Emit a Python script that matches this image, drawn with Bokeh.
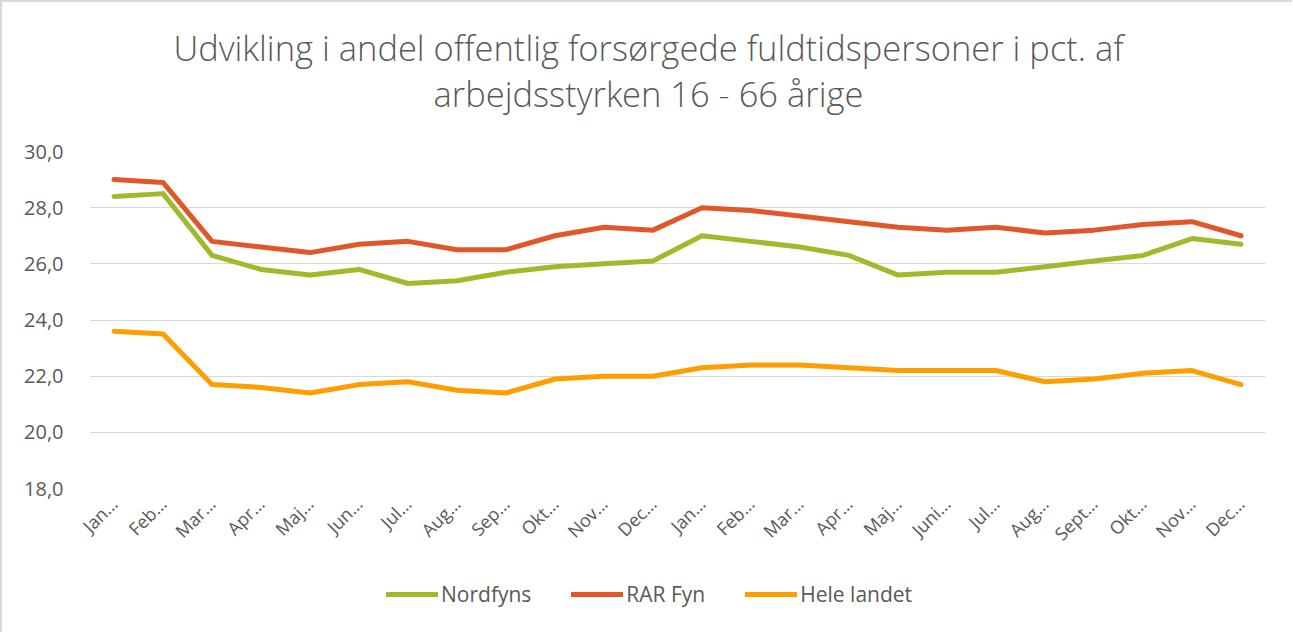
import math
from bokeh.plotting import figure
from bokeh.layouts import column
from bokeh.models import FixedTicker, Legend, LegendItem, Range1d
from bokeh.core.properties import value
from bokeh.embed import file_html
from bokeh.resources import INLINE

months = ["Jan…", "Feb…", "Mar…", "Apr…", "Maj…", "Jun…", "Jul…", "Aug…", "Sep…", "Okt…", "Nov…", "Dec…",
          "Jan…", "Feb…", "Mar…", "Apr…", "Maj…", "Juni…", "Jul…", "Aug…", "Sept…", "Okt…", "Nov…", "Dec…"]
nordfyns = [28.4, 28.5, 26.3, 25.8, 25.6, 25.8, 25.3, 25.4, 25.7, 25.9, 26.0, 26.1,
            27.0, 26.8, 26.6, 26.3, 25.6, 25.7, 25.7, 25.9, 26.1, 26.3, 26.9, 26.7]
rar_fyn = [29.0, 28.9, 26.8, 26.6, 26.4, 26.7, 26.8, 26.5, 26.5, 27.0, 27.3, 27.2,
           28.0, 27.9, 27.7, 27.5, 27.3, 27.2, 27.3, 27.1, 27.2, 27.4, 27.5, 27.0]
hele_landet = [23.6, 23.5, 21.7, 21.6, 21.4, 21.7, 21.8, 21.5, 21.4, 21.9, 22.0, 22.0,
               22.3, 22.4, 22.4, 22.3, 22.2, 22.2, 22.2, 21.8, 21.9, 22.1, 22.2, 21.7]
series_names = ["Nordfyns", "RAR Fyn", "Hele landet"]
colors = ["#A2B92B", "#E2572A", "#FF9E00"]
y_ticks = [18, 20, 22, 24, 26, 28, 30]
title_lines = ["Udvikling i andel offentlig forsørgede fuldtidspersoner i pct. af",
               "arbejdsstyrken 16 - 66 årige"]

xs = list(range(len(months)))
series = [nordfyns, rar_fyn, hele_landet]
gray = "#595959"
W = 1290
TH = 120  # title strip height
FL, FR = 89, 1265  # frame left/right (frames are aligned across the column)

# ---- title strip ----
tf = figure(width=W, height=TH, output_backend="svg", toolbar_location=None,
            x_range=Range1d(FL, FR), y_range=Range1d(0, TH), min_border=0,
            x_axis_location=None, y_axis_location=None)
tf.grid.visible = False
tf.outline_line_color = None
tf.text(x=[648, 648], y=[TH - 45, TH - 91], text=title_lines,
        text_align="center", text_baseline="middle",
        text_font=value("'Open Sans Light', 'Open Sans'"), text_font_size="34.5px", text_color=gray)

# ---- main chart ----
p = figure(width=W, height=434, output_backend="svg", toolbar_location=None,
           x_range=(-0.5, len(months) - 0.5), y_range=(18, 30),
           min_border_left=FL - 2, min_border_right=W - FR + 2, min_border_top=29, min_border_bottom=68)
p.outline_line_color = None
p.background_fill_color = "white"

for data, c in zip(series, colors):
    p.line(xs, data, line_color=c, line_width=5, line_join="round", line_cap="round")

p.xaxis.ticker = FixedTicker(ticks=xs)
p.xaxis.major_label_overrides = {i: m for i, m in enumerate(months)}
p.xaxis.major_label_orientation = math.pi / 4
p.yaxis.ticker = FixedTicker(ticks=y_ticks)
p.yaxis.major_label_overrides = {t: f"{t},0" for t in y_ticks}
for ax in (p.xaxis[0], p.yaxis[0]):
    ax.axis_line_color = None
    ax.major_tick_line_color = None
    ax.minor_tick_line_color = None
    ax.major_label_text_color = gray
    ax.major_label_text_font = "Open Sans"
p.xaxis.major_label_text_font_size = "18px"
p.yaxis.major_label_text_font_size = "20px"
p.yaxis.major_label_standoff = 20
p.xaxis.major_label_standoff = 6

p.xgrid.grid_line_color = None
p.ygrid.grid_line_color = "#D9D9D9"
p.ygrid.grid_line_width = 1

# ---- legend strip (lines lie outside its visible range; only the legend shows) ----
lg = figure(width=W, height=76, output_backend="svg", toolbar_location=None,
            x_range=Range1d(-0.5, len(months) - 0.5), y_range=Range1d(0, 1),
            min_border=0, x_axis_location=None, y_axis_location=None)
lg.grid.visible = False
lg.outline_line_color = None
items = []
for name, data, c in zip(series_names, series, colors):
    r = lg.line(xs, data, line_color=c, line_width=5, line_cap="round")
    items.append(LegendItem(label=name, renderers=[r]))
legend = Legend(items=items, orientation="horizontal", location=(297, 24),
                label_text_font="Open Sans", label_text_font_size="21px", label_text_color=gray,
                glyph_width=52, label_standoff=3, spacing=40, border_line_color=None,
                background_fill_alpha=0, padding=0, margin=0)
lg.add_layout(legend, "center")

layout = column(tf, p, lg, spacing=0)
layout.styles = {"border-top": "2px solid #D9D9D9", "border-left": "2px solid #D9D9D9"}

open("out.html", "w").write(file_html(layout, INLINE))
